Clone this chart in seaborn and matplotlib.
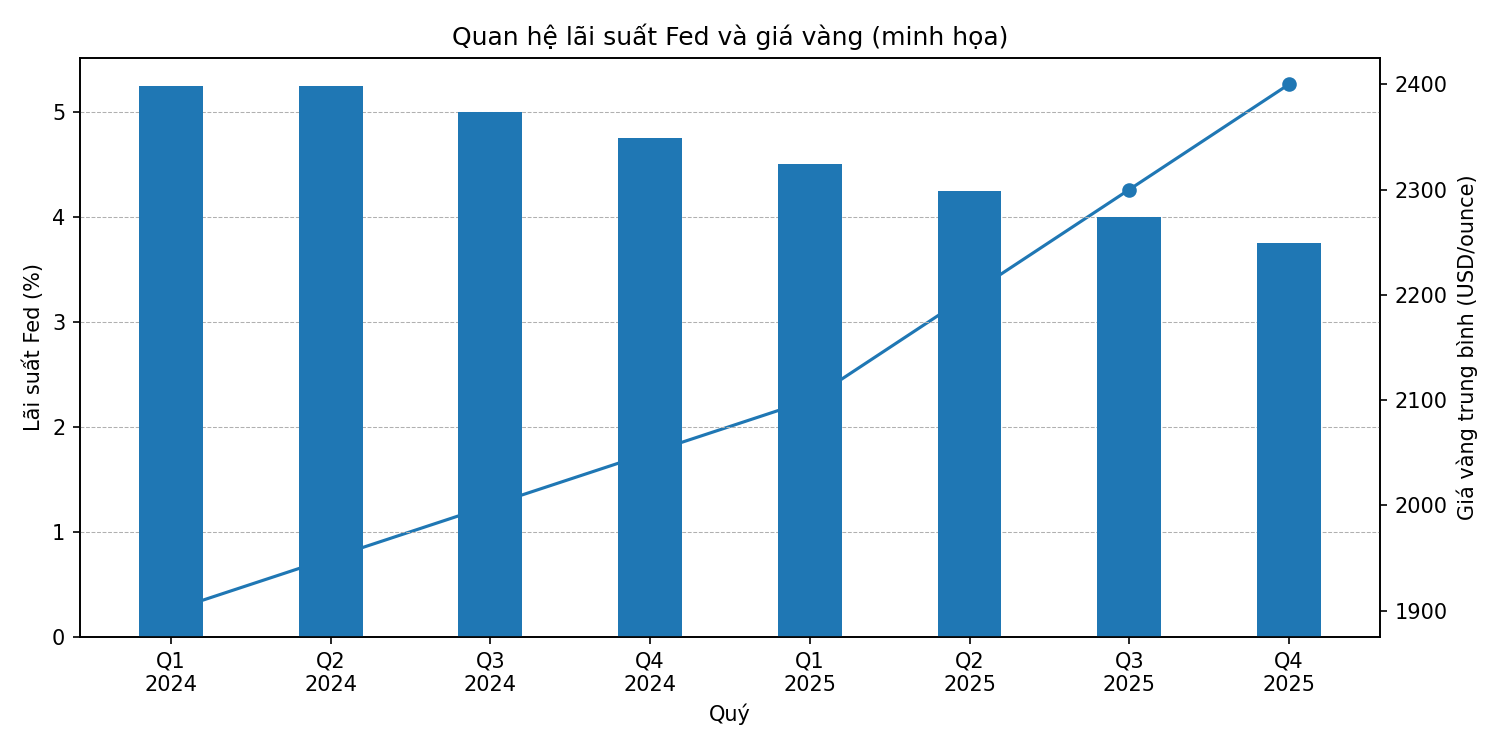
import numpy as np
import matplotlib
matplotlib.use("Agg")
import matplotlib.pyplot as plt
import seaborn as sns

# data
quarters = ["Q1\n2024", "Q2\n2024", "Q3\n2024", "Q4\n2024",
            "Q1\n2025", "Q2\n2025", "Q3\n2025", "Q4\n2025"]
fed_rate = [5.25, 5.25, 5.0, 4.75, 4.5, 4.25, 4.0, 3.75]
gold_price = [1900, 1950, 2000, 2050, 2100, 2200, 2300, 2400]

plt.rcParams['font.family'] = ['DejaVu Sans']
blue = "#1f77b4"

fig, ax1 = plt.subplots(figsize=(10, 5), dpi=150)
ax2 = ax1.twinx()

# bars for the Fed rate (left axis)
sns.barplot(x=quarters, y=fed_rate, color=blue, saturation=1, width=0.4, ax=ax1)
ax1.set_xlim(-0.57, 7.57)
ax1.set_ylim(0, 5.5125)
ax1.grid(axis='y', linestyle='--', linewidth=0.5, color='#b0b0b0')
ax1.set_axisbelow(True)
ax1.set_ylabel("Lãi suất Fed (%)")
ax1.set_xlabel("Quý")

# gold price line (right axis), drawn under the bars
x_pos = np.arange(len(quarters))
sns.lineplot(x=x_pos, y=gold_price, marker='o', color=blue, linewidth=1.5,
             markersize=6, markeredgecolor=blue, markeredgewidth=1, ax=ax2)
ax2.set_ylabel("Giá vàng trung bình (USD/ounce)")
ax2.set_ylim(1875, 2425)

ax1.set_zorder(ax2.get_zorder() + 1)
ax1.patch.set_visible(False)

ax1.set_title("Quan hệ lãi suất Fed và giá vàng (minh họa)", fontsize=12)
ax1.set_xticks(range(len(quarters)))
ax1.set_xticklabels(quarters)

fig.subplots_adjust(left=0.0533, right=0.92, top=0.9227, bottom=0.1507)
fig.savefig("out.png", dpi=150)
